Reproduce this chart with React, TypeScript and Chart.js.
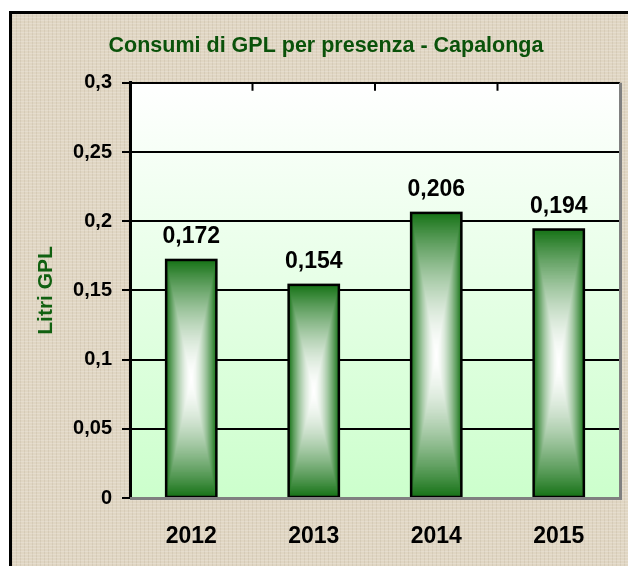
import React, { useEffect, useRef } from 'react';
import { Chart, registerables } from 'chart.js';
Chart.register(...registerables);

const categories = ['2012', '2013', '2014', '2015'];
const values = [0.172, 0.154, 0.206, 0.194];
const yTicks = [0, 0.05, 0.1, 0.15, 0.2, 0.25, 0.3];
const titleText = 'Consumi di GPL per presenza - Capalonga';
const yTitleText = 'Litri GPL';

const fmt = (v: number) => String(parseFloat(v.toFixed(3))).replace('.', ',');

const FONT = "'Liberation Sans', Arial, sans-serif";
const GREEN: [number, number, number] = [24, 116, 24];

const bgPlugin = {
  id: 'plotBg',
  beforeDraw(chart: any) {
    const { ctx, chartArea: a } = chart;
    const g = ctx.createLinearGradient(0, a.top, 0, a.bottom);
    g.addColorStop(0, '#ffffff');
    g.addColorStop(1, '#ccffcc');
    ctx.save();
    ctx.fillStyle = g;
    ctx.fillRect(a.left, a.top, a.right - a.left, a.bottom - a.top);
    ctx.restore();
  },
};

const barPlugin = {
  id: 'barDecor',
  afterDatasetsDraw(chart: any) {
    const { ctx, chartArea: a } = chart;
    const meta = chart.getDatasetMeta(0);
    ctx.save();
    meta.data.forEach((bar: any, i: number) => {
      const { x, y, base, width } = bar.getProps(['x', 'y', 'base', 'width'], true);
      const left = x - width / 2;
      const top = Math.min(y, base);
      const h = Math.abs(base - y);
      const cx = x;
      const cy = top + h / 2;
      const N = 100;
      for (let k = N; k >= 0; k--) {
        const t = k / N;
        const f = Math.pow(t, 1.6);
        const r = Math.round(255 + (GREEN[0] - 255) * f);
        const gg = Math.round(255 + (GREEN[1] - 255) * f);
        const b = Math.round(255 + (GREEN[2] - 255) * f);
        ctx.fillStyle = `rgb(${r},${gg},${b})`;
        const hw = (width / 2) * t;
        const hh = (h / 2) * t;
        ctx.fillRect(cx - hw, cy - hh, hw * 2, hh * 2);
      }
      ctx.strokeStyle = '#000';
      ctx.lineWidth = 2.5;
      ctx.strokeRect(left, top, width, h);
      // value label
      ctx.fillStyle = '#000';
      ctx.font = `bold 23px ${FONT}`;
      ctx.textAlign = 'center';
      ctx.textBaseline = 'alphabetic';
      ctx.fillText(fmt(values[i]), x, top - 17);
    });
    // bottom and right gray borders
    ctx.strokeStyle = '#808080';
    ctx.lineWidth = 3;
    ctx.beginPath();
    ctx.moveTo(a.left, a.bottom + 0.5);
    ctx.lineTo(a.right + 2, a.bottom + 0.5);
    ctx.moveTo(a.right + 0.5, a.top);
    ctx.lineTo(a.right + 0.5, a.bottom + 2);
    ctx.stroke();
    // top tick marks at category boundaries
    const xs = chart.scales.x;
    ctx.strokeStyle = '#000';
    ctx.lineWidth = 2;
    ctx.beginPath();
    for (let i = 1; i < categories.length; i++) {
      const px = (xs.getPixelForValue(i - 1) + xs.getPixelForValue(i)) / 2;
      ctx.moveTo(px, a.top);
      ctx.lineTo(px, a.top + 8);
    }
    ctx.stroke();
    ctx.restore();
  },
};

export default function App() {
  const ref = useRef<HTMLCanvasElement | null>(null);
  useEffect(() => {
    if (!ref.current) return;
    const chart = new Chart(ref.current, {
      type: 'bar',
      data: {
        labels: categories,
        datasets: [
          {
            data: values,
            backgroundColor: 'rgb(24,116,24)',
            borderColor: '#000',
            borderWidth: 0,
            categoryPercentage: 1,
            barPercentage: 0.41,
          },
        ],
      },
      options: {
        responsive: false,
        animation: false,
        layout: { padding: { left: 32, right: 8, top: 0, bottom: 0 } },
        plugins: {
          legend: { display: false },
          tooltip: { enabled: false },
          title: {
            display: true,
            text: titleText,
            color: '#0a520a',
            font: { family: FONT, size: 21.5, weight: 'bold' },
            padding: { top: 33, bottom: 24 },
          },
        },
        scales: {
          x: {
            offset: true,
            grid: { display: false },
            border: { display: false },
            ticks: {
              color: '#000',
              padding: 17,
              font: { family: FONT, size: 23, weight: 'bold' },
            },
            afterFit: (s: any) => {
              s.height = 68;
            },
          },
          y: {
            min: 0,
            max: 0.3,
            afterBuildTicks: (s: any) => {
              s.ticks = yTicks.map((v) => ({ value: v }));
            },
            grid: { color: '#000', lineWidth: 2, tickLength: 8 },
            border: { color: '#000', width: 3 },
            ticks: {
              color: '#000',
              padding: 10,
              font: { family: FONT, size: 20, weight: 'bold' },
              callback: (v: any) => fmt(Number(v)),
            },
            title: {
              display: true,
              text: yTitleText,
              color: '#106010',
              font: { family: FONT, size: 21, weight: 'bold' },
              padding: { top: 2, bottom: 0 },
            },
            afterFit: (s: any) => {
              s.width = 98;
            },
          },
        },
      },
      plugins: [bgPlugin, barPlugin],
    });
    return () => chart.destroy();
  }, []);

  const texture =
    'repeating-linear-gradient(0deg, rgba(255,255,255,0.18) 0px, rgba(255,255,255,0.18) 1px, rgba(0,0,0,0) 1px, rgba(0,0,0,0) 3px),' +
    'repeating-linear-gradient(90deg, rgba(110,90,60,0.09) 0px, rgba(110,90,60,0.09) 1px, rgba(0,0,0,0) 1px, rgba(0,0,0,0) 4px)';

  return (
    <div style={{ position: 'fixed', left: 0, top: 0, width: 628, height: 566, overflow: 'hidden', background: '#fff' }}>
      <div
        style={{
          position: 'absolute',
          left: 9,
          top: 11,
          width: 700,
          height: 700,
          border: '3px solid #000',
          backgroundColor: '#e0d6c3',
          backgroundImage: texture,
        }}
      />
      <canvas ref={ref} width={628} height={566} style={{ position: 'absolute', left: 0, top: 0, width: 628, height: 566 }} />
    </div>
  );
}
